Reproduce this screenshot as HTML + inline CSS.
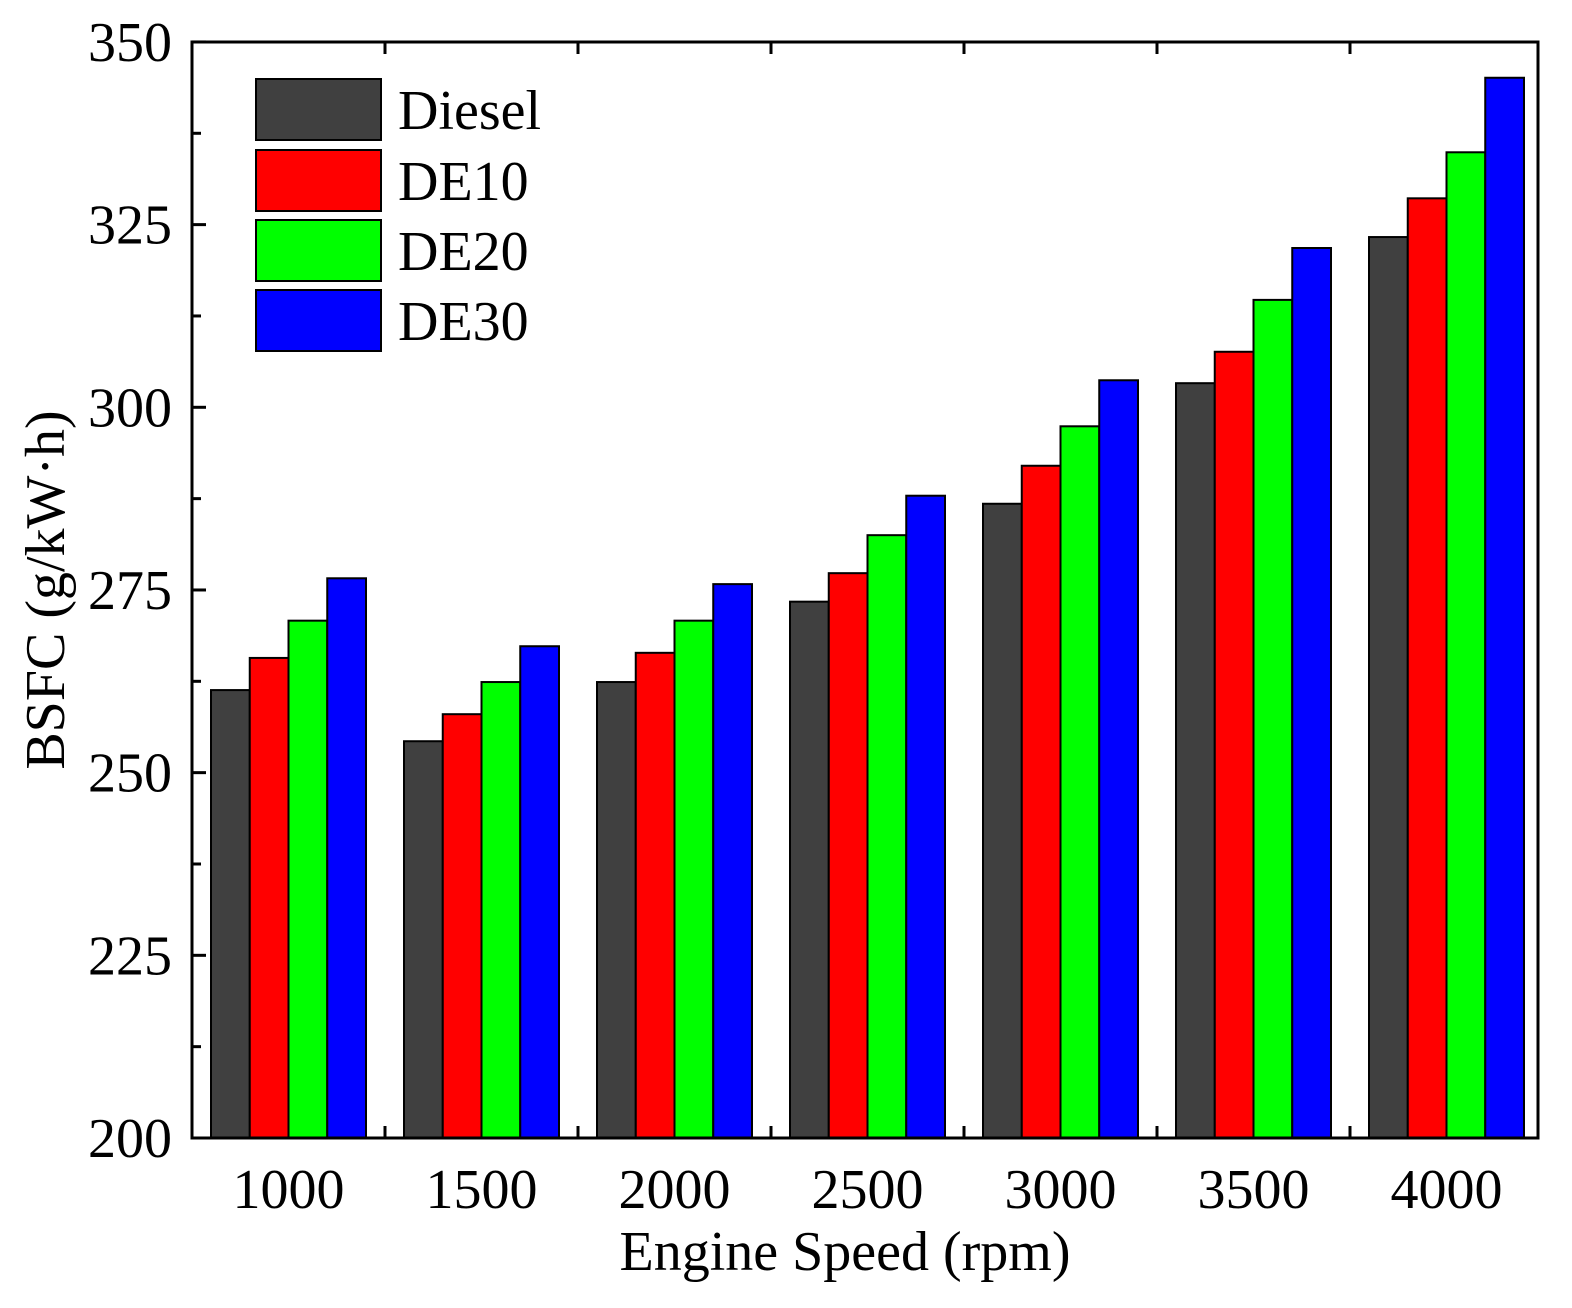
<!DOCTYPE html>
<html><head><meta charset="utf-8"><style>body{margin:0;background:#fff}</style></head>
<body>
<svg width="1572" height="1303" xmlns="http://www.w3.org/2000/svg" font-family="Liberation Serif, serif">
<rect width="1572" height="1303" fill="#fff"/>
<g id="bars" stroke="#000" stroke-width="2"></g>
<g id="ax" stroke="#000" stroke-width="3" fill="none"></g>
<g id="lab" font-size="56" fill="#000"></g>
<rect x="256" y="79" width="125" height="61" fill="#404040" stroke="#000" stroke-width="2"/>
<rect x="256" y="150" width="125" height="61" fill="#ff0000" stroke="#000" stroke-width="2"/>
<rect x="256" y="220" width="125" height="61" fill="#00ff00" stroke="#000" stroke-width="2"/>
<rect x="256" y="290" width="125" height="61" fill="#0000ff" stroke="#000" stroke-width="2"/>
<g font-size="56"><text x="398" y="129">Diesel</text><text x="398" y="200">DE10</text><text x="398" y="270">DE20</text><text x="398" y="340">DE30</text></g>
<text x="845" y="1270" font-size="56" text-anchor="middle">Engine Speed (rpm)</text>
<text transform="translate(64,590) rotate(-90)" font-size="56" text-anchor="middle">BSFC (g/kW·h)</text>
<script>
var ns="http://www.w3.org/2000/svg";
function el(p,t,a,txt){var e=document.createElementNS(ns,t);for(var k in a)e.setAttribute(k,a[k]);if(txt)e.textContent=txt;document.getElementById(p).appendChild(e);}
var Y=function(v){return 1138-(v-200)*7.307;};
var d=[[261.3,265.7,270.8,276.6],[254.3,258.0,262.4,267.3],[262.4,266.4,270.8,275.8],[273.4,277.3,282.5,287.9],[286.8,292.0,297.4,303.7],[303.3,307.6,314.7,321.8],[323.3,328.6,334.9,345.1]];
var c=["#404040","#ff0000","#00ff00","#0000ff"];
for(var g=0;g<7;g++){var cx=288.5+g*193;for(var i=0;i<4;i++){var x=cx-77.5+i*38.75;el("bars","rect",{x:x,y:Y(d[g][i]),width:38.75,height:1138-Y(d[g][i]),fill:c[i]});}
el("lab","text",{x:cx,y:1208,"text-anchor":"middle"},String(1000+g*500));}
el("ax","rect",{x:192,y:42,width:1346,height:1096});
for(var v=200;v<=350;v+=12.5){var y=Y(v),L=(v%25==0)?14:9;el("ax","line",{x1:192,y1:y,x2:192+L,y2:y});
if(v%25==0)el("lab","text",{x:172,y:y+19,"text-anchor":"end"},String(v));}
for(var g=0;g<6;g++){var x=385+g*193;el("ax","line",{x1:x,y1:1138,x2:x,y2:1126});el("ax","line",{x1:x,y1:42,x2:x,y2:54});}
</script>
</svg>
</body></html>
